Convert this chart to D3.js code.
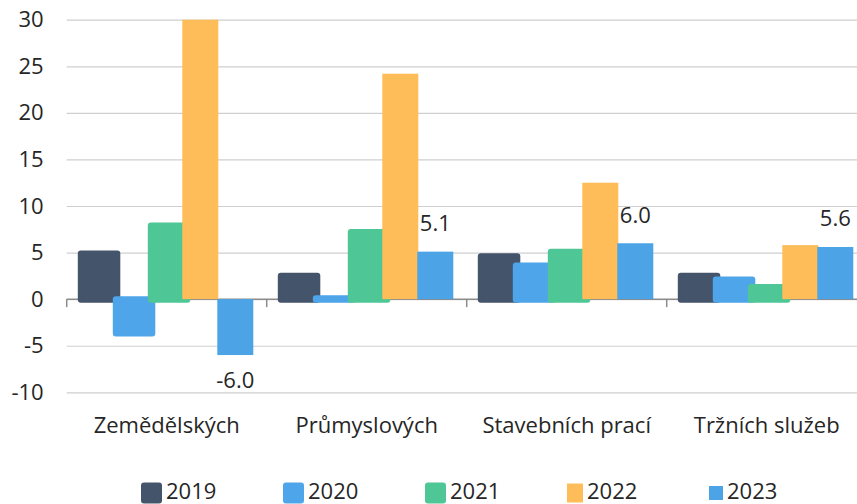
<!DOCTYPE html>
<html>
<head>
<meta charset="utf-8">
<script src="https://cdn.jsdelivr.net/npm/d3@7"></script>
<style>
  body { margin: 0; background: #fff; }
  text { font-family: "Open Sans", "Noto Sans", sans-serif; fill: #262626; }
</style>
</head>
<body>
<svg id="chart" width="857" height="504"></svg>
<script>
var categories = ["Zemědělských", "Průmyslových", "Stavebních prací", "Tržních služeb"];
var years = ["2019", "2020", "2021", "2022", "2023"];
var v2019 = [4.9, 2.5, 4.6, 2.5];
var v2020 = [-3.6, 0.1, 3.6, 2.1];
var v2021 = [7.9, 7.2, 5.1, 1.3];
var v2022 = [30.0, 24.2, 12.5, 5.8];
var v2023 = [-6.0, 5.1, 6.0, 5.6];
var yTicks = [-10, -5, 0, 5, 10, 15, 20, 25, 30];
var labelledYear = "2023";

var colors = ["#44546a", "#4ea5e9", "#4ec695", "#ffbd59", "#4ca4e7"];
// the first three series have the soft rounded look of the original
var rounded = [true, true, true, false, false];
var swatchSize = [[21, 21], [21, 21], [21, 21], [16, 19], [14, 14]];

var series = [v2019, v2020, v2021, v2022, v2023].map(function (vals, i) {
  return {
    year: years[i],
    color: colors[i],
    rounded: rounded[i],
    values: vals.map(function (v, j) { return { cat: categories[j], value: v }; })
  };
});

var width = 857, height = 504;
var svg = d3.select("#chart");

var x0 = d3.scaleBand().domain(categories).range([66.7, 866.7]);
var x1 = d3.scaleBand().domain(years).range([10.6, 185.6]);
var y = d3.scaleLinear().domain([-10, 30]).range([392.3, 19.7]);

// plain hyphen for negatives, like the original
function fmt(v, digits) { return v.toFixed(digits); }

// gridlines + y labels
var yAxisG = svg.append("g")
  .attr("transform", "translate(66.7,0)")
  .call(d3.axisLeft(y).tickValues(yTicks).tickSize(-(width - 66.7)).tickPadding(23)
    .tickFormat(function (d) { return fmt(d, 0); }));
yAxisG.select(".domain").remove();
yAxisG.selectAll(".tick line").attr("stroke", "#cfcfcf").attr("stroke-width", 1.2);
yAxisG.selectAll(".tick text")
  .style("font-size", "22px")
  .style("font-family", "'Open Sans', sans-serif")
  .attr("fill", "#262626");

// zero line with category ticks
var zeroY = y(0);
svg.append("line")
  .attr("x1", 66.7).attr("x2", width)
  .attr("y1", zeroY).attr("y2", zeroY)
  .attr("stroke", "#8c8c8c").attr("stroke-width", 1.5);
svg.selectAll(".catTick")
  .data(categories.concat(["end"]))
  .enter().append("line")
  .attr("class", "catTick")
  .attr("x1", function (d, i) { return 66.7 + i * x0.step(); })
  .attr("x2", function (d, i) { return 66.7 + i * x0.step(); })
  .attr("y1", zeroY).attr("y2", zeroY + 8)
  .attr("stroke", "#8c8c8c").attr("stroke-width", 1.5);

// bars
var groups = svg.selectAll(".series")
  .data(series)
  .enter().append("g")
  .attr("class", "series")
  .attr("fill", function (d) { return d.color; });

groups.each(function (s) {
  d3.select(this).selectAll("rect")
    .data(s.values)
    .enter().append("rect")
    .attr("x", function (d) { return x0(d.cat) + x1(s.year) + (s.rounded ? 0.5 : 0); })
    .attr("width", s.rounded ? 42.5 : x1.bandwidth() + 1)
    .attr("y", function (d) {
      var t = Math.min(y(d.value), zeroY);
      return s.rounded ? t - 3 : t;
    })
    .attr("height", function (d) {
      var h = Math.abs(y(d.value) - zeroY);
      return s.rounded ? h + 6.7 : h;
    })
    .attr("rx", s.rounded ? 3 : 0);
});

// value labels
var lab = series.filter(function (s) { return s.year === labelledYear; })[0];
svg.selectAll(".valLabel")
  .data(lab.values)
  .enter().append("text")
  .attr("class", "valLabel")
  .attr("text-anchor", "middle")
  .style("font-size", "22px")
  .attr("x", function (d) { return x0(d.cat) + x1(lab.year) + x1.bandwidth() / 2 + 0.5; })
  .attr("y", function (d) { return d.value >= 0 ? y(d.value) - 20.5 : y(d.value) + 33; })
  .text(function (d) { return fmt(d.value, 1); });

// category labels
var xAxisG = svg.append("g")
  .attr("transform", "translate(0," + zeroY + ")")
  .call(d3.axisBottom(x0).tickSize(0).tickPadding(118));
xAxisG.select(".domain").remove();
xAxisG.selectAll(".tick text")
  .style("font-size", "22px")
  .style("font-family", "'Open Sans', sans-serif")
  .attr("fill", "#262626");

// legend
var legend = svg.selectAll(".legendItem")
  .data(series)
  .enter().append("g")
  .attr("class", "legendItem")
  .attr("transform", function (d, i) { return "translate(" + (141 + i * 142) + ",0)"; });
legend.append("rect")
  .attr("x", 0)
  .attr("y", function (d, i) { return 493 - swatchSize[i][1] / 2; })
  .attr("width", function (d, i) { return swatchSize[i][0]; })
  .attr("height", function (d, i) { return swatchSize[i][1]; })
  .attr("rx", function (d, i) { return i < 3 ? 3 : 0; })
  .attr("fill", function (d) { return d.color; });
legend.append("text")
  .attr("x", function (d, i) { return swatchSize[i][0] + 4; })
  .attr("y", 498.5)
  .style("font-size", "22px")
  .text(function (d) { return d.year; });
</script>
</body>
</html>
